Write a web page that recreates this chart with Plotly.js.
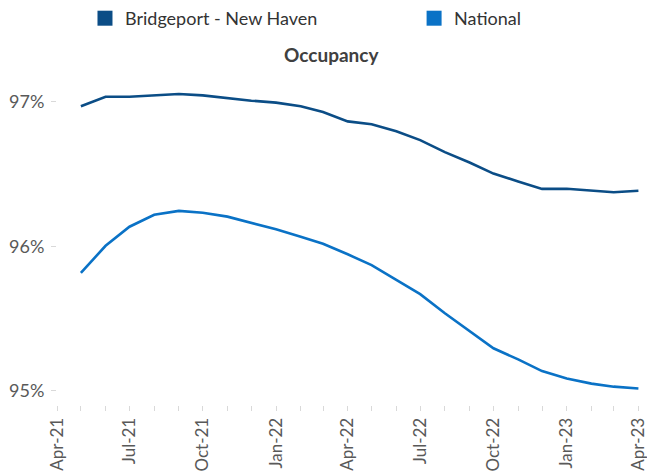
<!DOCTYPE html>
<html>
<head>
<meta charset="utf-8">
<script src="https://cdn.plot.ly/plotly-3.0.1.min.js"></script>
<style>html,body{margin:0;padding:0;background:#fff;}#chart{width:647px;height:475px;}</style>
</head>
<body>
<div id="chart"></div>
<script>
const months = ["2021-05-01","2021-06-01","2021-07-01","2021-08-01","2021-09-01","2021-10-01","2021-11-01","2021-12-01",
  "2022-01-01","2022-02-01","2022-03-01","2022-04-01","2022-05-01","2022-06-01","2022-07-01","2022-08-01",
  "2022-09-01","2022-10-01","2022-11-01","2022-12-01","2023-01-01","2023-02-01","2023-03-01","2023-04-01"];
const bridgeport = [96.97,97.035,97.035,97.045,97.055,97.045,97.025,97.008,96.995,96.97,96.93,96.865,
  96.845,96.797,96.735,96.652,96.58,96.503,96.449,96.397,96.398,96.385,96.374,96.384];
const national = [95.815,96.003,96.135,96.218,96.245,96.232,96.205,96.163,96.117,96.066,96.017,95.944,
  95.869,95.767,95.668,95.536,95.413,95.293,95.216,95.135,95.084,95.048,95.027,95.014];
const seriesNames = ["Bridgeport - New Haven","National"];
const colors = ["#0b4d86","#0a72c6"];
const yTickVals = [95,96,97];
const yTickText = ["95%","96%","97%"];

const font = "Lato, 'Open Sans', sans-serif";
const traces = [
  {x: months, y: bridgeport, type:"scatter", mode:"lines", name: seriesNames[0], showlegend:false,
   line:{color:colors[0], width:2.6}},
  {x: months, y: national, type:"scatter", mode:"lines", name: seriesNames[1], showlegend:false,
   line:{color:colors[1], width:2.6}},
  {x:[null], y:[null], type:"scatter", mode:"markers", name: seriesNames[0], showlegend:true, legend:"legend",
   marker:{symbol:"square", size:15, color:colors[0]}},
  {x:[null], y:[null], type:"scatter", mode:"markers", name: seriesNames[1], showlegend:true, legend:"legend2",
   marker:{symbol:"square", size:15, color:colors[1]}}
];
const legendBase = {orientation:"h", xanchor:"left", y:1.0, yref:"container", yanchor:"top",
  font:{family:font, size:18, color:"#333333"}, itemwidth:30, bgcolor:"rgba(0,0,0,0)"};
const layout = {
  width:647, height:475,
  margin:{l:57, r:7, t:73, b:70},
  paper_bgcolor:"#fff", plot_bgcolor:"#fff",
  font:{family:font, color:"#595959"},
  title:{text:"<b>Occupancy</b>", x:0.512, xanchor:"center", xref:"container", y:0.884, yref:"container",
    yanchor:"middle", font:{family:font, size:19, color:"#404040"}},
  showlegend:true,
  legend: Object.assign({}, legendBase, {x:0.048}),
  legend2: Object.assign({}, legendBase, {x:0.6125}),
  xaxis:{type:"date", range:["2021-04-01","2023-04-03"], tick0:"2021-04-01", dtick:"M3",
    tickformat:"%b-%y", tickangle:-90, ticks:"outside", ticklen:5, tickcolor:"#d9d9d9",
    ticklabeloverflow:"allow",
    minor:{dtick:"M1", ticks:"outside", ticklen:5, tickcolor:"#d9d9d9", showgrid:false},
    showgrid:false, showline:false, zeroline:false,
    tickfont:{family:font, size:17, color:"#595959"}},
  yaxis:{range:[94.9,97.2], tickvals:yTickVals, ticktext:yTickText, ticks:"outside", ticklen:5,
    tickcolor:"#d9d9d9", showgrid:false, showline:false, zeroline:false, ticklabelstandoff:3,
    tickfont:{family:font, size:18, color:"#595959"}}
};
Plotly.newPlot("chart", traces, layout, {displayModeBar:false, staticPlot:true});
</script>
</body>
</html>
